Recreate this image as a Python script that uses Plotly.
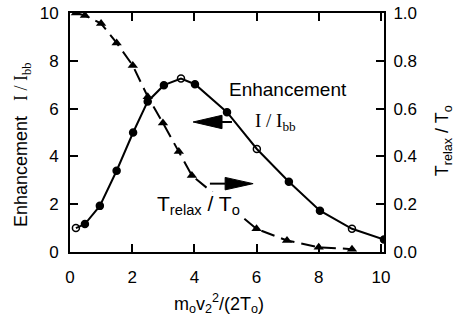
import plotly.graph_objects as go

# Enhancement I/Ibb (left axis), solid line with circles
enh_x = [0.19, 0.48, 0.96, 1.5, 2.03, 2.5, 3.02, 3.57, 4.02, 5.05, 6.01, 7.04, 8.04, 9.07, 10.1]
enh_y = [1.0, 1.17, 1.93, 3.4, 5.0, 6.3, 6.98, 7.26, 7.02, 5.85, 4.31, 2.94, 1.73, 0.97, 0.52]
enh_open = [True, False, False, False, False, False, False, True, False, False, True, False, False, True, False]

# Trelax/To (right axis), dashed line with triangles
trx_x = [0.19, 0.48, 1.0, 1.5, 2.02, 2.5, 2.99, 3.5, 3.92, 6.0, 6.98, 8.0, 9.07]
trx_y = [1.0, 0.99, 0.956, 0.875, 0.78, 0.65, 0.54, 0.42, 0.32, 0.097, 0.048, 0.02, 0.012]

x_ticks = [0, 2, 4, 6, 8, 10]
yl_ticks = [0, 2, 4, 6, 8, 10]
yr_ticks = [0.0, 0.2, 0.4, 0.6, 0.8, 1.0]
yr_labels = ["0.0", "0.2", "0.4", "0.6", "0.8", "1.0"]

SANS = "Liberation Sans, Arial, sans-serif"
SERIF = "Liberation Serif, Times New Roman, serif"

fig = go.Figure()
fig.add_trace(go.Scatter(
    x=trx_x, y=trx_y, yaxis="y2", mode="lines+markers",
    line=dict(color="black", width=2, dash="14px,7px"),
    marker=dict(symbol="triangle-up", size=9, color="black"),
    showlegend=False, hoverinfo="skip"))
fig.add_trace(go.Scatter(
    x=enh_x, y=enh_y, mode="lines+markers",
    line=dict(color="black", width=2),
    marker=dict(symbol=["circle-open" if o else "circle" for o in enh_open],
                size=7, color="black", line=dict(color="black", width=1.5)),
    showlegend=False, hoverinfo="skip"))

ax_common = dict(showline=True, linecolor="black", linewidth=2, ticks="inside",
                 ticklen=8, tickwidth=2, tickcolor="black", showgrid=False,
                 zeroline=False, ticklabeloverflow="allow",
                 tickfont=dict(family=SANS, size=17, color="black"))

fig.update_layout(
    width=463, height=330,
    margin=dict(l=70, r=79, t=4, b=78),
    paper_bgcolor="white", plot_bgcolor="white",
    xaxis=dict(range=[0, 10.1], tickvals=x_ticks, mirror="ticks",
               ticklabelstandoff=9, **ax_common),
    yaxis=dict(range=[0, 10], tickvals=yl_ticks, ticklabelstandoff=6, **ax_common),
    yaxis2=dict(range=[0, 1], tickvals=yr_ticks, ticktext=yr_labels,
                overlaying="y", side="right", ticklabelstandoff=4, **ax_common),
    font=dict(family=SANS, color="black"),
)

# Arrow shapes (triangle heads + tails)
fig.add_shape(type="path", xref="x", yref="y",
              path="M 3.96,5.44 L 4.89,5.72 L 4.89,5.16 Z",
              fillcolor="black", line=dict(color="black", width=1))
fig.add_shape(type="line", xref="x", yref="y", x0=4.89, y0=5.44, x1=5.21, y1=5.44,
              line=dict(color="black", width=2))
fig.add_shape(type="path", xref="x", yref="y",
              path="M 5.89,2.86 L 4.99,3.12 L 4.99,2.60 Z",
              fillcolor="black", line=dict(color="black", width=1))
fig.add_shape(type="line", xref="x", yref="y", x0=4.50, y0=2.86, x1=4.99, y1=2.86,
              line=dict(color="black", width=2))

ann = []
def px(xp, yp):
    return (xp - 70) / 314.0, (252 - yp) / 248.0

x0, y0 = px(227, 83)
ann.append(dict(x=x0, y=y0, xref="paper", yref="paper", showarrow=False,
                text="Enhancement", font=dict(family=SANS, size=19, color="black"),
                xanchor="left", yanchor="middle"))
x0, y0 = px(253, 117)
ann.append(dict(x=x0, y=y0, xref="paper", yref="paper", showarrow=False,
                text="I / I<sub>bb</sub>", font=dict(family=SERIF, size=19, color="black"),
                xanchor="left", yanchor="middle"))
x0, y0 = px(156, 203)
ann.append(dict(x=x0, y=y0, xref="paper", yref="paper", showarrow=False,
                text="T<sub>relax</sub> / T<sub>o</sub>", font=dict(family=SANS, size=21, color="black"),
                xanchor="left", yanchor="middle", bgcolor="white", borderpad=0))
# axis titles
x0, y0 = px(22, 141)
ann.append(dict(x=x0, y=y0, xref="paper", yref="paper", showarrow=False, textangle=-90,
                text="Enhancement   <span style='font-family:Liberation Serif'>I / I<sub>bb</sub></span>",
                font=dict(family=SANS, size=18, color="black"),
                xanchor="center", yanchor="middle"))
x0, y0 = px(443, 137)
ann.append(dict(x=x0, y=y0, xref="paper", yref="paper", showarrow=False, textangle=-90,
                text="T<sub>relax</sub> / T<sub>o</sub>",
                font=dict(family=SANS, size=18, color="black"),
                xanchor="center", yanchor="middle"))
x0, y0 = px(219, 305)
ann.append(dict(x=x0, y=y0, xref="paper", yref="paper", showarrow=False,
                text="m<sub>o</sub>v<sub>2</sub><sup>2</sup>/(2T<sub>o</sub>)",
                font=dict(family=SANS, size=18, color="black"),
                xanchor="center", yanchor="middle"))
fig.update_layout(annotations=ann)

fig.write_html("out.html", config={"displayModeBar": False},
               post_script="document.body.style.margin='0';document.body.style.padding='0';")
